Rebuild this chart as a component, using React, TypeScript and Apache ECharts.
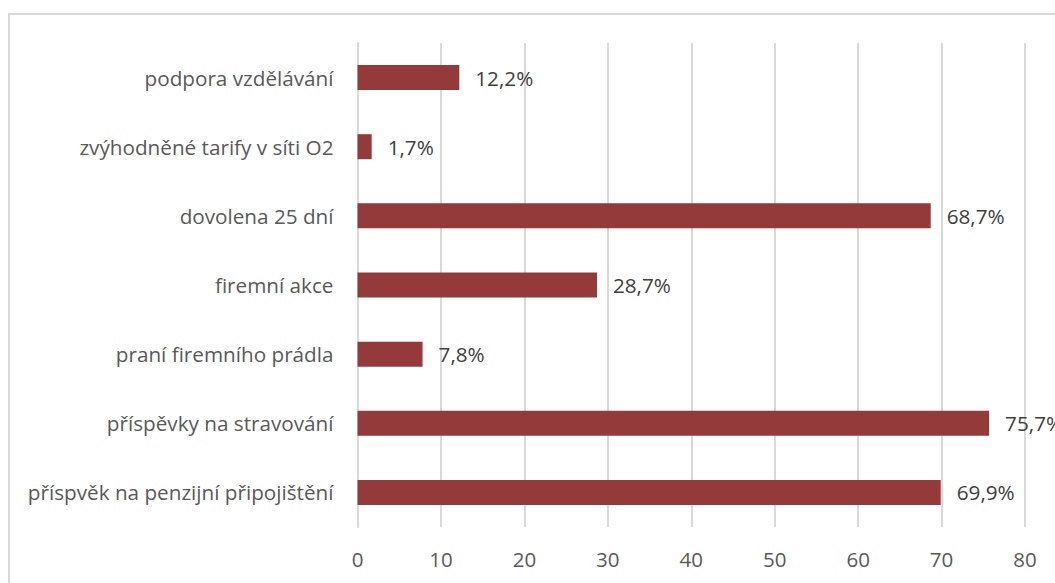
import React, { useEffect, useRef } from "react";
import * as echarts from "echarts";

const categories = [
  "příspvěk na penzijní připojištění",
  "příspěvky na stravování",
  "praní firemního prádla",
  "firemní akce",
  "dovolena 25 dní",
  "zvýhodněné tarify v síti O2",
  "podpora vzdělávání",
];
const values = [69.9, 75.7, 7.8, 28.7, 68.7, 1.7, 12.2];
const xTicks = { min: 0, max: 80, interval: 10 };

const FONT = "Open Sans";

export default function App() {
  const ref = useRef<HTMLDivElement>(null);
  useEffect(() => {
    if (!ref.current) return;
    const chart = echarts.init(ref.current, undefined, { renderer: "svg" });
    chart.setOption({
      animation: false,
      backgroundColor: "#ffffff",
      textStyle: { fontFamily: FONT },
      graphic: [
        {
          type: "rect",
          shape: { x: 9, y: 14, width: 2000, height: 2000 },
          style: { fill: "none", stroke: "#d9d9d9", lineWidth: 2 },
          silent: true,
        },
      ],
      grid: { left: 357.5, right: 30, top: 43, bottom: 56, containLabel: false },
      xAxis: {
        type: "value",
        min: xTicks.min,
        max: xTicks.max,
        interval: xTicks.interval,
        axisLine: { show: false },
        axisTick: { show: false },
        splitLine: { show: true, lineStyle: { color: "#d9d9d9", width: 2 } },
        axisLabel: { color: "#595959", fontSize: 20.5, fontFamily: FONT, margin: 21 },
      },
      yAxis: {
        type: "category",
        data: categories,
        axisLine: { show: true, lineStyle: { color: "#d9d9d9", width: 2 } },
        axisTick: { show: false },
        axisLabel: { color: "#595959", fontSize: 20.7, fontFamily: FONT, margin: 24 },
      },
      series: [
        {
          type: "bar",
          data: values,
          barWidth: 25,
          itemStyle: { color: "#953A3A" },
          label: {
            show: true,
            position: "right",
            distance: 16,
            color: "#404040",
            fontSize: 20.7,
            fontFamily: FONT,
            formatter: (p: any) => String(p.value).replace(".", ",") + "%",
          },
        },
      ],
    });
    return () => chart.dispose();
  }, []);
  return (
    <div
      ref={ref}
      style={{ position: "fixed", left: 0, top: 0, width: 1055, height: 583 }}
    />
  );
}
